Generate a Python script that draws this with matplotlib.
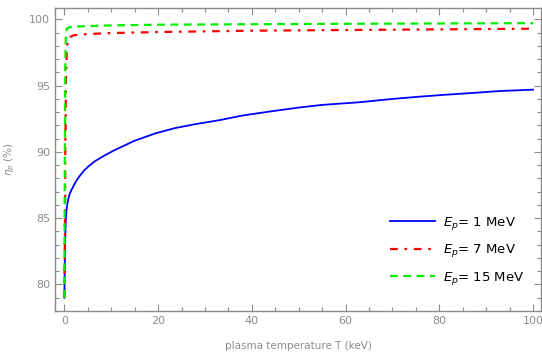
import matplotlib.pyplot as plt
from matplotlib.ticker import MultipleLocator

# values
T_blue = [0, 0.05, 0.1, 0.2, 0.3, 0.5, 0.8, 1.2, 1.9, 2.5, 3.3, 4.2, 5.1, 6.5, 8.7, 10.5, 12.3,
          15, 19.4, 23.6, 28, 33.1, 38, 43.8, 50, 55, 62.9, 70, 75, 80.6, 87, 93, 100]
eta_blue = [79.0, 80.5, 82.0, 83.8, 84.85, 85.8, 86.4, 86.9, 87.4, 87.8, 88.2, 88.6, 88.9, 89.3,
            89.76, 90.1, 90.4, 90.85, 91.4, 91.8, 92.1, 92.4, 92.75, 93.05, 93.35, 93.55, 93.75,
            94.0, 94.15, 94.3, 94.45, 94.6, 94.7]

T_red = [0, 0.1, 0.2, 0.35, 0.5, 0.7, 1.0, 2, 3, 5, 10, 20, 30, 40, 60, 80, 100]
eta_red = [79.0, 83.0, 90.0, 95.5, 97.5, 98.3, 98.65, 98.8, 98.85, 98.9, 98.97, 99.05, 99.1,
           99.15, 99.2, 99.25, 99.3]

T_green = [0, 0.05, 0.1, 0.2, 0.3, 0.5, 1.0, 2, 5, 10, 20, 30, 60, 100]
eta_green = [79.0, 84.0, 90.0, 96.5, 98.6, 99.3, 99.4, 99.45, 99.5, 99.55, 99.6, 99.62, 99.67, 99.72]

labels = [r'$E_p$= 1 MeV', r'$E_p$= 7 MeV', r'$E_p$= 15 MeV']

gray = '#8c8c8c'
fig = plt.figure(figsize=(5.42, 3.56), dpi=100)
ax = fig.add_axes([55 / 542, 45 / 356, 486 / 542, 303.5 / 356])

ax.plot(T_blue, eta_blue, color='#0000ff', lw=1.3, label=labels[0])
ax.plot(T_red, eta_red, color='#ff0000', lw=1.6, dashes=(3.5, 3, 1.2, 3), label=labels[1])
ax.plot(T_green, eta_green, color='#00ee00', lw=1.6, dashes=(3.5, 2.5), label=labels[2])

ax.set_xlim(-2, 101.7)
ax.set_ylim(78, 100.9)
ax.xaxis.set_major_locator(MultipleLocator(20))
ax.xaxis.set_minor_locator(MultipleLocator(5))
ax.yaxis.set_major_locator(MultipleLocator(5))
ax.yaxis.set_minor_locator(MultipleLocator(1))
ax.tick_params(which='both', direction='in', top=True, right=True, color=gray,
               labelcolor=gray, labelsize=8, width=0.8)
ax.tick_params(which='major', length=5)
ax.tick_params(which='minor', length=3)
for s in ax.spines.values():
    s.set_color(gray)
    s.set_linewidth(1.0)

ax.set_xlabel('plasma temperature T (keV)', color=gray, fontsize=7.5, labelpad=11)
ax.set_ylabel(r'$\eta_p$ (%)', color=gray, fontsize=7.5, labelpad=9)

leg = ax.legend(loc='lower right', frameon=False, fontsize=9.5, handlelength=3.4,
                labelspacing=0.8, handletextpad=0.6, bbox_to_anchor=(0.99, 0.04))

fig.savefig('out.png', dpi=100)
